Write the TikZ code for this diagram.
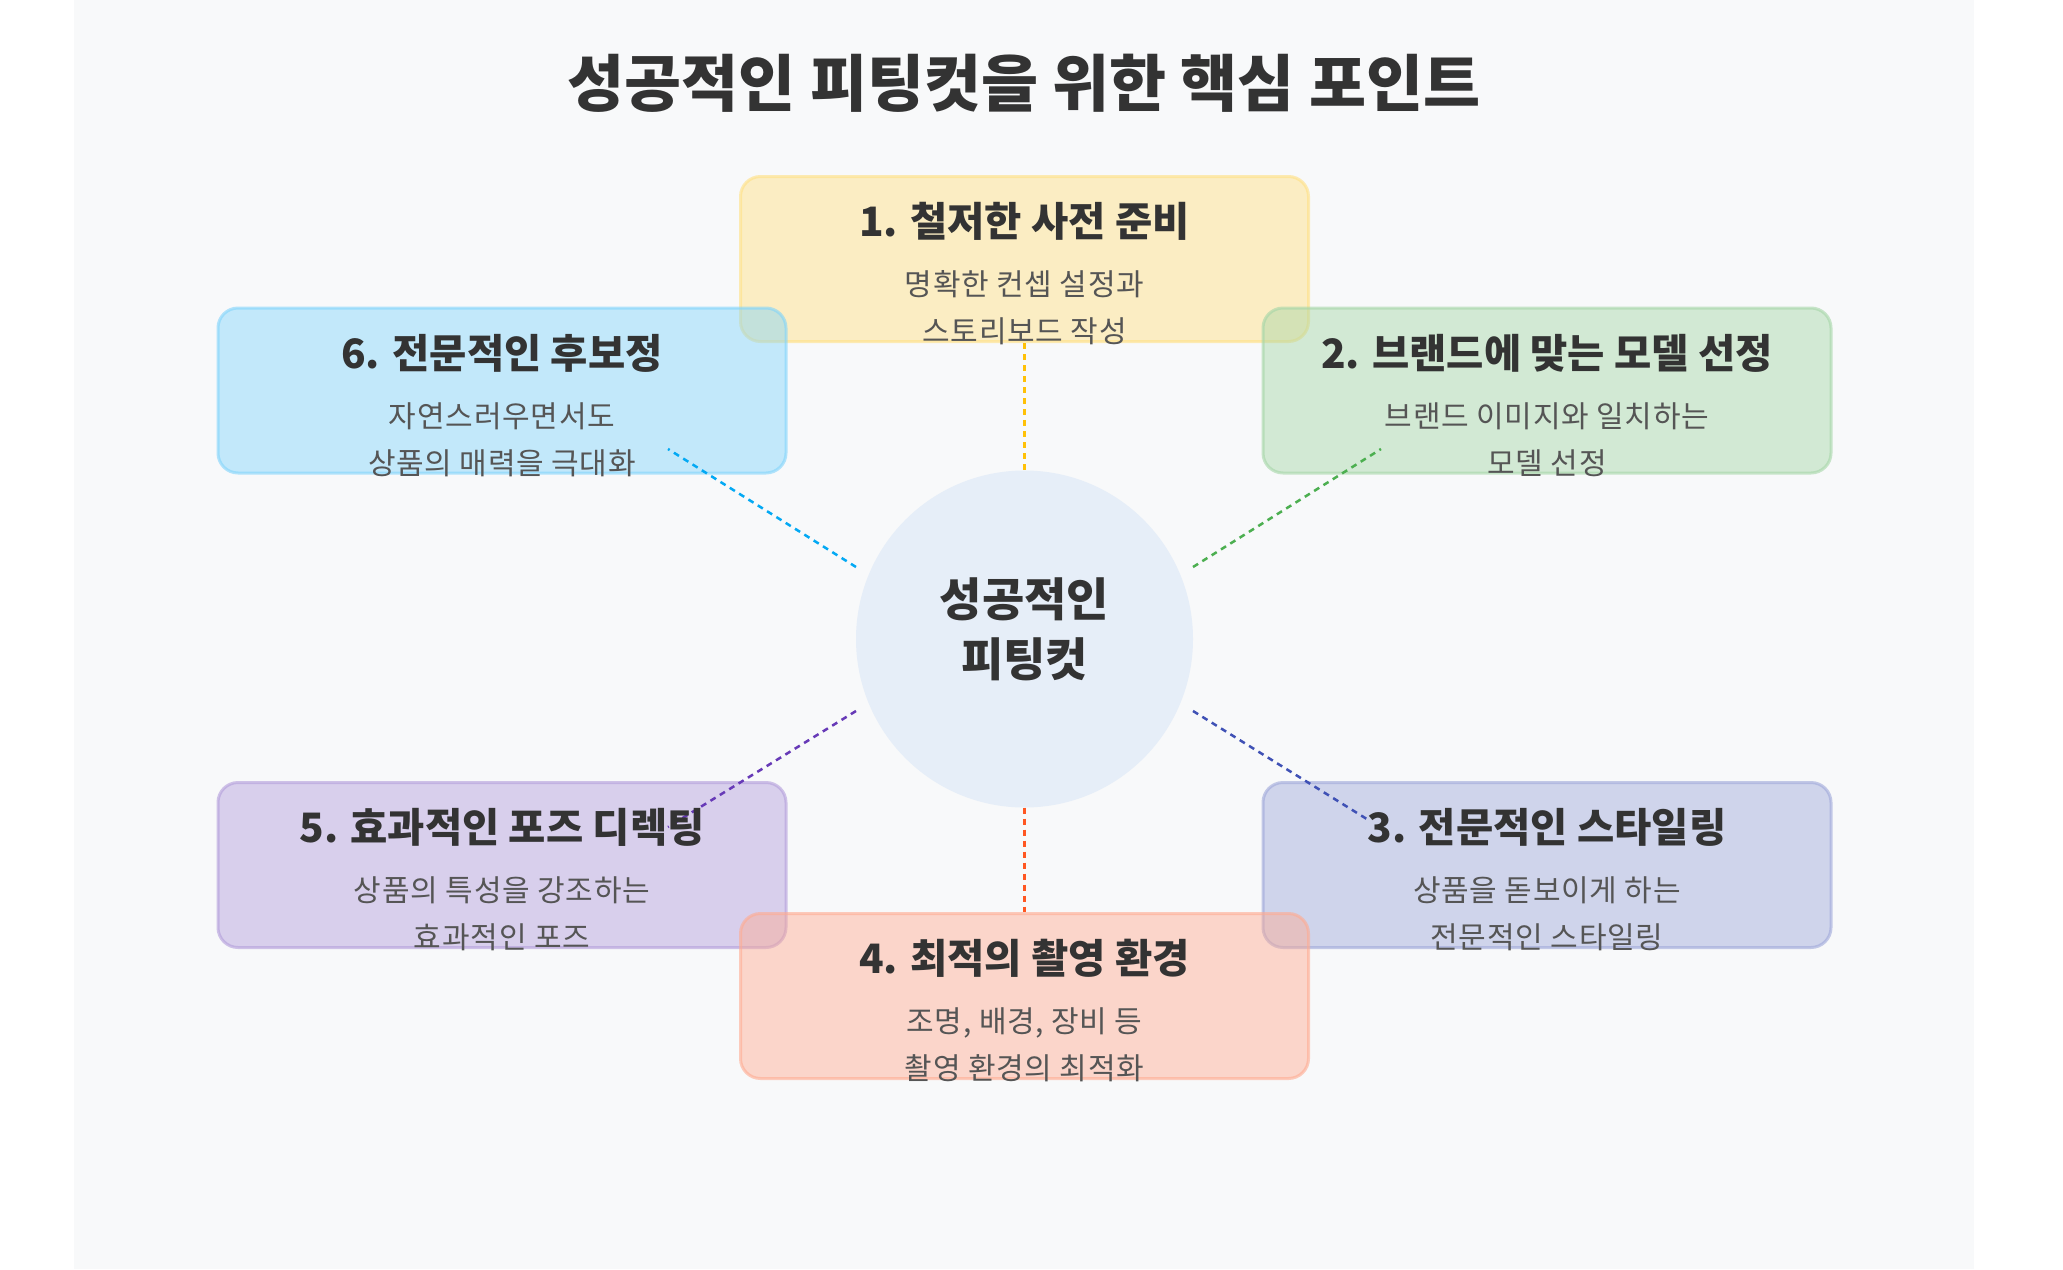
\documentclass[tikz,border=0pt]{standalone}
\usepackage{fontspec}
\setmainfont{Noto Sans CJK KR}
\definecolor{bgc}{HTML}{F8F9FA}
\definecolor{txtdark}{HTML}{333333}
\definecolor{txtsub}{HTML}{555555}
\definecolor{hubfill}{HTML}{E6EEF8}
\definecolor{cyel}{HTML}{FFE082}
\definecolor{cblu}{HTML}{81D4FA}
\definecolor{cgrn}{HTML}{A5D6A7}
\definecolor{cind}{HTML}{9FA8DA}
\definecolor{cpur}{HTML}{B39DDB}
\definecolor{cora}{HTML}{FFAB91}
\definecolor{lyel}{HTML}{FFC107}
\definecolor{lblu}{HTML}{03A9F4}
\definecolor{lgrn}{HTML}{4CAF50}
\definecolor{lind}{HTML}{3F51B5}
\definecolor{lpur}{HTML}{673AB7}
\definecolor{lora}{HTML}{FF5722}
\tikzset{
  card/.style={draw=#1, fill=#1, fill opacity=0.45, draw opacity=0.6, line width=3pt,
    rounded corners=20pt, minimum width=568pt, minimum height=165pt, inner sep=0pt},
  link/.style={draw=#1, line width=2.5pt, dash pattern=on 6pt off 5pt},
  headtxt/.style={anchor=base, text=txtdark, font=\fontsize{40.5}{46}\selectfont\bfseries},
  subtxt/.style={anchor=base, text=txtsub, font=\fontsize{30}{36}\selectfont\addfontfeature{LetterSpace=2.5}},
  hubtxt/.style={anchor=base, text=txtdark, font=\fontsize{46}{52}\selectfont\bfseries},
}
\begin{document}
\begin{tikzpicture}[x=1pt,y=-1pt]
\useasboundingbox (0,0) rectangle (2063,1269);
\fill[white] (0,0) rectangle (2063,1269);
\fill[bgc] (74,0) rectangle (1974,1269);

% title
\node (title) [anchor=base, text=txtdark, font=\fontsize{62}{70}\selectfont\bfseries] at (1024,106) {성공적인 피팅컷을 위한 핵심 포인트};

% cards
\node (b1) [card=cyel] at (1024.5,259) {};
\node (b6) [card=cblu] at (502,390.5) {};
\node (b2) [card=cgrn] at (1547,390.5) {};
\node (b5) [card=cpur] at (502,865) {};
\node (b3) [card=cind] at (1547,865) {};
\node (b4) [card=cora] at (1024.5,996) {};

% hub
\node (hub) [circle, fill=hubfill, minimum size=337pt, inner sep=0pt] at (1024.5,639) {};

% connector end points
\coordinate (h6) at (856,567);
\coordinate (h2) at (1193,567);
\coordinate (h5) at (856,711);
\coordinate (h3) at (1193,711);
\coordinate (e6) at (668,449);
\coordinate (e2) at (1381,449);
\coordinate (e5) at (668,827);
\coordinate (e3) at (1370,821);

% connectors
\draw[link=lyel] (b1.south) -- (hub.north);
\draw[link=lora] (hub.south) -- (b4.north);
\draw[link=lblu] (h6) -- (e6);
\draw[link=lgrn] (h2) -- (e2);
\draw[link=lpur] (h5) -- (e5);
\draw[link=lind] (h3) -- (e3);

% hub text
\node (hubA) [hubtxt] at (1024.5,616.5) {성공적인};
\node (hubB) [hubtxt] at (1024.5,676.5) {피팅컷};

% card texts
\node (t1) [headtxt] at (1024.5,236) {1. 철저한 사전 준비};
\node (s1a) [subtxt] at (1024.5,295) {명확한 컨셉 설정과};
\node (s1b) [subtxt] at (1024.5,342) {스토리보드 작성};

\node (t6) [headtxt] at (502,368) {6. 전문적인 후보정};
\node (s6a) [subtxt] at (502,427) {자연스러우면서도};
\node (s6b) [subtxt] at (502,474) {상품의 매력을 극대화};

\node (t2) [headtxt] at (1547,368) {2. 브랜드에 맞는 모델 선정};
\node (s2a) [subtxt] at (1547,427) {브랜드 이미지와 일치하는};
\node (s2b) [subtxt] at (1547,474) {모델 선정};

\node (t5) [headtxt] at (502,842) {5. 효과적인 포즈 디렉팅};
\node (s5a) [subtxt] at (502,901) {상품의 특성을 강조하는};
\node (s5b) [subtxt] at (502,948) {효과적인 포즈};

\node (t3) [headtxt] at (1547,842) {3. 전문적인 스타일링};
\node (s3a) [subtxt] at (1547,901) {상품을 돋보이게 하는};
\node (s3b) [subtxt] at (1547,948) {전문적인 스타일링};

\node (t4) [headtxt] at (1024.5,973) {4. 최적의 촬영 환경};
\node (s4a) [subtxt] at (1024.5,1032) {조명, 배경, 장비 등};
\node (s4b) [subtxt] at (1024.5,1079) {촬영 환경의 최적화};
\end{tikzpicture}
\end{document}
